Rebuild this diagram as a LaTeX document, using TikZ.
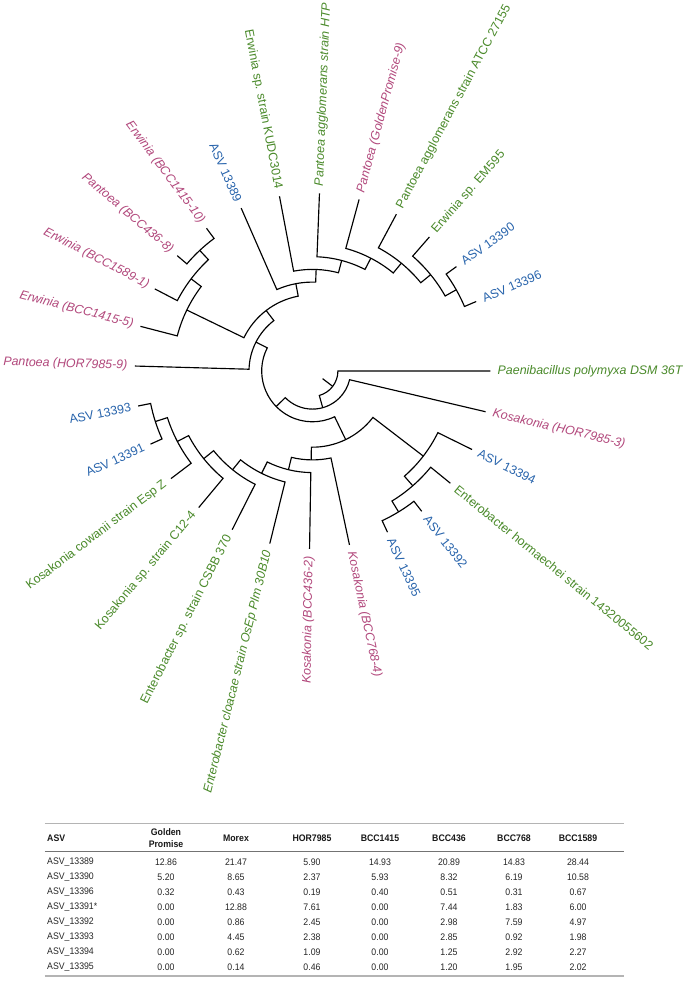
\documentclass[tikz,border=0pt]{standalone}
\usepackage{fontspec}
\setmainfont{Liberation Sans}
\newfontfamily\tabfont[FakeStretch=0.92]{Liberation Sans}
\definecolor{pk}{RGB}{178,72,124}
\definecolor{gr}{RGB}{74,138,42}
\definecolor{bl}{RGB}{40,100,172}
\definecolor{rulegray}{RGB}{180,180,180}
\newcommand\clade[5]{\draw[br] (#1) -- (#2:#3pt) arc[start angle=#2, end angle=#4, radius=#3pt] -- (#5);}
\begin{document}
\begin{tikzpicture}[x=1pt,y=1pt,
  br/.style={line width=1.15pt, black},
  lab/.style={inner sep=0pt, font=\fontsize{12.4}{14}\selectfont},
  tc/.style={inner sep=0pt, font=\tabfont\fontsize{9.5}{10}\selectfont, text=black!85},
  th/.style={inner sep=0pt, font=\tabfont\bfseries\fontsize{9.5}{10}\selectfont, text=black!90},
  rl/.style={draw=rulegray, line width=0.8pt}]
\useasboundingbox (-312.5,-610) rectangle (372.5,371);
\fill[white] (-312.5,-610) rectangle (372.5,371);

% ---------- leaves (right side) ----------
\foreach \i/\a/\col/\sh/\txt in {
  0/0/gr/\itshape/Paenibacillus polymyxa DSM 36T,
  1/23/bl/\upshape/ASV 13396,
  2/35.95/bl/\upshape/ASV 13390,
  3/48.9/gr/\upshape/Erwinia sp. EM595,
  4/61.85/gr/\upshape/Pantoea agglomerans strain ATCC 27155,
  5/74.8/pk/\itshape/Pantoea (GoldenPromise-9),
  6/87.75/gr/\itshape/Pantoea agglomerans strain HTP,
  21/282/pk/\itshape/Kosakonia (BCC768-4),
  22/294.95/bl/\upshape/ASV 13395,
  23/307.9/bl/\upshape/ASV 13392,
  24/320.85/gr/\upshape/Enterobacter hormaechei strain 14320055602,
  25/333.8/bl/\upshape/ASV 13394,
  26/346.75/pk/\itshape/Kosakonia (HOR7985-3)}{
  \coordinate (t\i) at (\a:177.8);
  \node[lab, text=\col, anchor=west, rotate=\a] (lab\i) at (\a:185) {\sh\txt};
}
% ---------- leaves (left side) ----------
\foreach \i/\a/\col/\sh/\txt in {
  7/100.7/gr/\upshape/Erwinia sp. strain KUDC3014,
  8/113.65/bl/\upshape/ASV 13389,
  9/126.6/pk/\itshape/Erwinia (BCC1415-10),
  10/139.55/pk/\itshape/Pantoea (BCC436-8),
  11/152.5/pk/\itshape/Erwinia (BCC1589-1),
  12/165.45/pk/\itshape/Erwinia (BCC1415-5),
  13/178.4/pk/\itshape/Pantoea (HOR7985-9),
  14/191.35/bl/\upshape/ASV 13393,
  15/204.3/bl/\upshape/ASV 13391,
  16/217.25/gr/\upshape/Kosakonia cowanii strain Esp Z,
  17/230.2/gr/\upshape/Kosakonia sp. strain C12-4,
  18/243.15/gr/\upshape/Enterobacter sp. strain CSBB 370,
  19/256.1/gr/\itshape/Enterobacter cloacae strain OsEp Plm 30B10,
  20/269.05/pk/\itshape/Kosakonia (BCC436-2)}{
  \coordinate (t\i) at (\a:177.8);
  \pgfmathsetmacro\rot{\a-180}
  \node[lab, text=\col, anchor=east, rotate=\rot] (lab\i) at (\a:185) {\sh\txt};
}

% ---------- internal nodes ----------
\coordinate (nO) at (29.475:165.1);
\coordinate (nP) at (39.1875:152.4);
\coordinate (nQ) at (50.51875:139.7);
\coordinate (nR) at (62.659:127);
\coordinate (nS) at (75.205:114.3);
\coordinate (nT) at (87.952:101.6);
\coordinate (nU) at (100.801:88.9);
\coordinate (nL) at (133.075:165.1);
\coordinate (nM) at (142.7875:152.4);
\coordinate (nV) at (154.119:139.7);
\coordinate (nW) at (127.46:76.2);
\coordinate (nX) at (152.93:63.5);
\coordinate (nE) at (197.825:165.1);
\coordinate (nD) at (207.5375:152.4);
\coordinate (nC) at (218.869:139.7);
\coordinate (nB) at (231.009:127);
\coordinate (nA) at (243.555:114.3);
\coordinate (nG) at (256.30:101.6);
\coordinate (nH) at (269.15:88.9);
\coordinate (nI) at (301.425:165.1);
\coordinate (nJ) at (311.14:152.4);
\coordinate (nK) at (322.47:139.7);
\coordinate (nZ) at (295.81:76.2);
\coordinate (nY) at (224.37:50.8);
\coordinate (nN) at (285.56:38.1);
\coordinate (nRoot) at (322.78:25.4);
\coordinate (stem) at (322.78:12.7);

% ---------- branches ----------
\clade{t1}{23}{165.1}{35.95}{t2}
\clade{nO}{29.475}{152.4}{48.9}{t3}
\clade{nP}{39.1875}{139.7}{61.85}{t4}
\clade{nQ}{50.51875}{127}{74.8}{t5}
\clade{nR}{62.659}{114.3}{87.75}{t6}
\clade{nS}{75.205}{101.6}{100.7}{t7}
\clade{nT}{87.952}{88.9}{113.65}{t8}
\clade{t9}{126.6}{165.1}{139.55}{t10}
\clade{nL}{133.075}{152.4}{152.5}{t11}
\clade{nM}{142.7875}{139.7}{165.45}{t12}
\clade{nU}{100.801}{76.2}{154.119}{nV}
\clade{nW}{127.46}{63.5}{178.4}{t13}
\clade{t14}{191.35}{165.1}{204.3}{t15}
\clade{nE}{197.825}{152.4}{217.25}{t16}
\clade{nD}{207.5375}{139.7}{230.2}{t17}
\clade{nC}{218.869}{127}{243.15}{t18}
\clade{nB}{231.009}{114.3}{256.1}{t19}
\clade{nA}{243.555}{101.6}{269.05}{t20}
\clade{nG}{256.30}{88.9}{282}{t21}
\clade{t22}{294.95}{165.1}{307.9}{t23}
\clade{nI}{301.425}{152.4}{320.85}{t24}
\clade{nJ}{311.14}{139.7}{333.8}{t25}
\clade{nH}{269.15}{76.2}{322.47}{nK}
\clade{nX}{152.93}{50.8}{295.81}{nZ}
\clade{nY}{224.37}{38.1}{346.75}{t26}
\clade{nN}{285.56}{25.4}{360}{t0}
\draw[br] (stem) -- (nRoot);

% ---------- table ----------
\draw[rl] (-267.5,-452) -- (311.5,-452);
\draw[draw=black!55, line width=0.8pt] (-267.5,-480) -- (311.5,-480);
\draw[rulegray, line width=2pt] (-267.5,-605) -- (311.5,-605);

\node[th, anchor=west] (hA) at (-265.5,-467) {ASV};
\node[th, align=center, font=\tabfont\bfseries\fontsize{9.5}{12}\selectfont] (hB) at (-146.5,-467) {Golden\\Promise};
\node[th] (hC) at (-76.5,-467) {Morex};
\node[th] (hD) at (-0.5,-467) {HOR7985};
\node[th] (hE) at (67.5,-467) {BCC1415};
\node[th] (hF) at (136.5,-467) {BCC436};
\node[th] (hG) at (201.5,-467) {BCC768};
\node[th] (hH) at (265.5,-467) {BCC1589};

\foreach \r/\nm/\va/\vb/\vc/\vd/\ve/\vf/\vg in {
  0/ASV\_13389/12.86/21.47/5.90/14.93/20.89/14.83/28.44,
  1/ASV\_13390/5.20/8.65/2.37/5.93/8.32/6.19/10.58,
  2/ASV\_13396/0.32/0.43/0.19/0.40/0.51/0.31/0.67,
  3/ASV\_13391*/0.00/12.88/7.61/0.00/7.44/1.83/6.00,
  4/ASV\_13392/0.00/0.86/2.45/0.00/2.98/7.59/4.97,
  5/ASV\_13393/0.00/4.45/2.38/0.00/2.85/0.92/1.98,
  6/ASV\_13394/0.00/0.62/1.09/0.00/1.25/2.92/2.27,
  7/ASV\_13395/0.00/0.14/0.46/0.00/1.20/1.95/2.02}{
  \pgfmathsetmacro\yy{-491-15*\r}
  \node[tc, anchor=west] (c\r a) at (-265.5,\yy) {\nm};
  \node[tc] (c\r b) at (-146.5,\yy) {\va};
  \node[tc] (c\r c) at (-76.5,\yy) {\vb};
  \node[tc] (c\r d) at (-0.5,\yy) {\vc};
  \node[tc] (c\r e) at (67.5,\yy) {\vd};
  \node[tc] (c\r f) at (136.5,\yy) {\ve};
  \node[tc] (c\r g) at (201.5,\yy) {\vf};
  \node[tc] (c\r h) at (265.5,\yy) {\vg};
}
\end{tikzpicture}
\end{document}
